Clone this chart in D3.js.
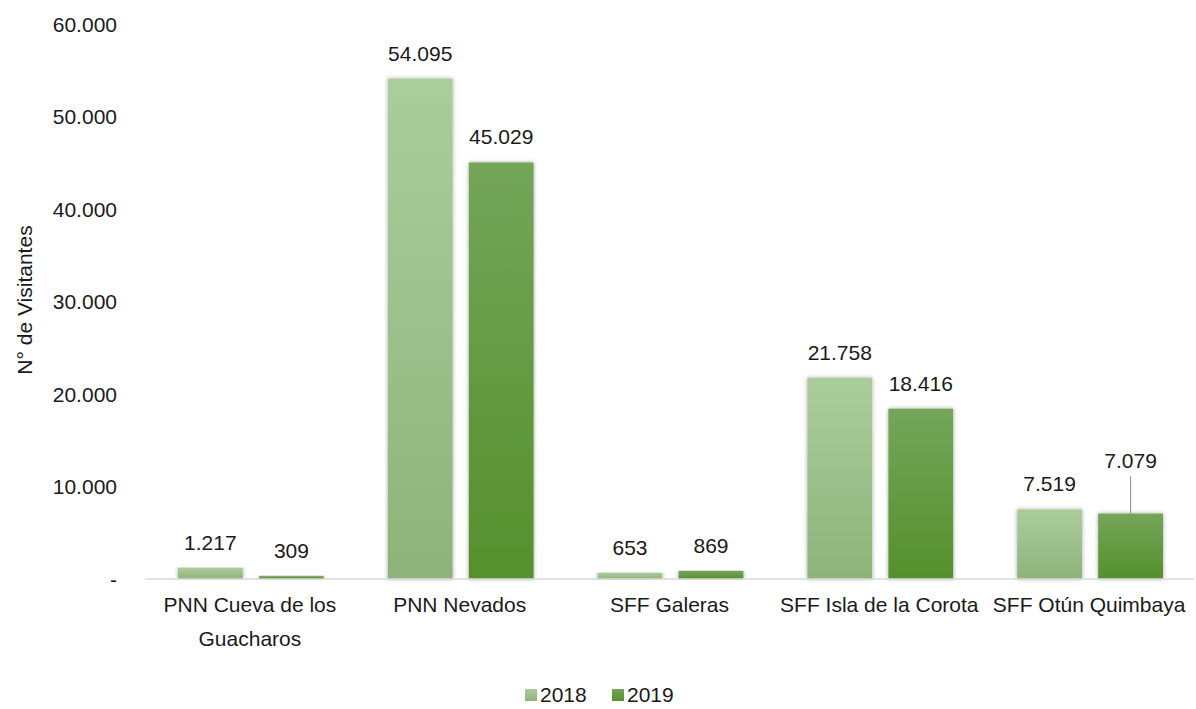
<!DOCTYPE html>
<html>
<head>
<meta charset="utf-8">
<script src="https://cdn.jsdelivr.net/npm/d3@7"></script>
<style>
  body { margin: 0; background: #fff; }
  text { font-family: "Liberation Sans", Arial, sans-serif; fill: #1a1a1a; }
</style>
</head>
<body>
<svg width="1196" height="709"></svg>
<script>
var categories = ["PNN Cueva de los Guacharos", "PNN Nevados", "SFF Galeras", "SFF Isla de la Corota", "SFF Otún Quimbaya"];
var series = ["2018", "2019"];
var values2018 = [1217, 54095, 653, 21758, 7519];
var values2019 = [309, 45029, 869, 18416, 7079];
var yTicks = [0, 10000, 20000, 30000, 40000, 50000, 60000];

var svg = d3.select("svg");
var margin = {left: 145, right: 2, top: 24, bottom: 130};
var width = 1196, height = 709;
var baseY = 579;

var x0 = d3.scaleBand().domain(categories).range([margin.left, width - margin.right]);
var x1 = d3.scaleBand().domain(series).range([33, x0.bandwidth() - 31]).paddingInner(0.2);
var y = d3.scaleLinear().domain([0, 60000]).range([baseY, margin.top]);

var fmt = function(v) {
   return v === 0 ? "-" : d3.format(",")(v).replace(/,/g, ".");
};

// gradients and shadow
var defs = svg.append("defs");
var grads = [["g2018", "#abcd9c", "#8db37a"], ["g2019", "#74a55a", "#55902c"]];
grads.forEach(function(g) {
   var lg = defs.append("linearGradient").attr("id", g[0])
      .attr("x1", 0).attr("y1", 0).attr("x2", 0).attr("y2", 1);
   lg.append("stop").attr("offset", "0%").attr("stop-color", g[1]);
   lg.append("stop").attr("offset", "100%").attr("stop-color", g[2]);
});
var f = defs.append("filter").attr("id", "shadow")
   .attr("x", "-20%").attr("y", "-5%").attr("width", "140%").attr("height", "110%");
f.append("feDropShadow").attr("dx", 0).attr("dy", 0).attr("stdDeviation", 2)
   .attr("flood-color", "#000").attr("flood-opacity", 0.35);

// y axis labels
var yAxis = d3.axisLeft(y).tickValues(yTicks).tickSize(0).tickFormat(fmt);
var gy = svg.append("g").attr("transform", "translate(117,0)").call(yAxis);
gy.select(".domain").remove();
gy.selectAll("text").attr("x", 0).attr("dy", "0.35em")
   .style("font-size", "21px").style("font-family", "Liberation Sans, Arial, sans-serif")
   .attr("fill", "#1a1a1a");

svg.append("text")
   .attr("transform", "translate(25," + 300 + ") rotate(-90)")
   .attr("text-anchor", "middle")
   .attr("dy", "0.35em")
   .style("font-size", "21px")
   .text("N° de Visitantes");

// data
var data = categories.map(function(c, i) {
   return {cat: c, vals: [
      {s: "2018", v: values2018[i]},
      {s: "2019", v: values2019[i]}
   ]};
});

var groups = svg.selectAll(".grp").data(data).enter().append("g")
   .attr("class", "grp")
   .attr("transform", function(d) { return "translate(" + x0(d.cat) + ",0)"; });

groups.selectAll("rect").data(function(d) { return d.vals; }).enter().append("rect")
   .attr("x", function(d) { return x1(d.s); })
   .attr("width", x1.bandwidth())
   .attr("y", function(d) { return y(d.v); })
   .attr("height", function(d) { return baseY - y(d.v); })
   .attr("fill", function(d) { return "url(#g" + d.s + ")"; })
   .attr("filter", "url(#shadow)");

// axis line
svg.append("line")
   .attr("x1", margin.left).attr("x2", width - margin.right)
   .attr("y1", baseY).attr("y2", baseY)
   .attr("stroke", "#d9d9d9").attr("stroke-width", 1.5);

// value labels
groups.selectAll(".lbl").data(function(d) { return d.vals.map(function(v) { return {s: v.s, v: v.v, cat: d.cat}; }); })
   .enter().append("text")
   .attr("class", "lbl")
   .attr("text-anchor", "middle")
   .style("font-size", "21px")
   .attr("x", function(d) { return x1(d.s) + x1.bandwidth() / 2; })
   .attr("y", function(d) {
      var off = (d.cat === "SFF Otún Quimbaya" && d.s === "2019") ? 46 : 18;
      return y(d.v) - off;
   })
   .text(function(d) { return fmt(d.v); });

// leader line for the moved label
var otun = categories.indexOf("SFF Otún Quimbaya");
var lx = x0(categories[otun]) + x1("2019") + x1.bandwidth() / 2;
svg.append("line")
   .attr("x1", lx).attr("x2", lx)
   .attr("y1", y(values2019[otun]) - 37).attr("y2", y(values2019[otun]))
   .attr("stroke", "#8c8c8c").attr("stroke-width", 1);

// category labels with wrapping
var xAxis = svg.append("g");
categories.forEach(function(c) {
   var t = xAxis.append("text")
      .attr("text-anchor", "middle")
      .style("font-size", "21px")
      .attr("x", x0(c) + x0.bandwidth() / 2)
      .attr("y", 612);
   var words = c.split(" "), line = [], lineNo = 0;
   var tspan = t.append("tspan").attr("x", x0(c) + x0.bandwidth() / 2).attr("dy", 0);
   words.forEach(function(w) {
      line.push(w);
      tspan.text(line.join(" "));
      if (tspan.node().getComputedTextLength() > x0.bandwidth() + 4 && line.length > 1) {
         line.pop();
         tspan.text(line.join(" "));
         line = [w];
         lineNo++;
         tspan = t.append("tspan").attr("x", x0(c) + x0.bandwidth() / 2).attr("dy", "1.6em").text(w);
      }
   });
});

// legend
var legend = svg.append("g").attr("transform", "translate(525,695)");
var lg = legend.selectAll("g").data(series).enter().append("g")
   .attr("transform", function(d, i) { return "translate(" + (i * 87) + ",0)"; });
lg.append("rect").attr("x", 0).attr("y", -6).attr("width", 12).attr("height", 12)
   .attr("fill", function(d) { return "url(#g" + d + ")"; });
lg.append("text").attr("x", 15).attr("dy", "0.35em").style("font-size", "21px")
   .text(function(d) { return d; });
</script>
</body>
</html>
